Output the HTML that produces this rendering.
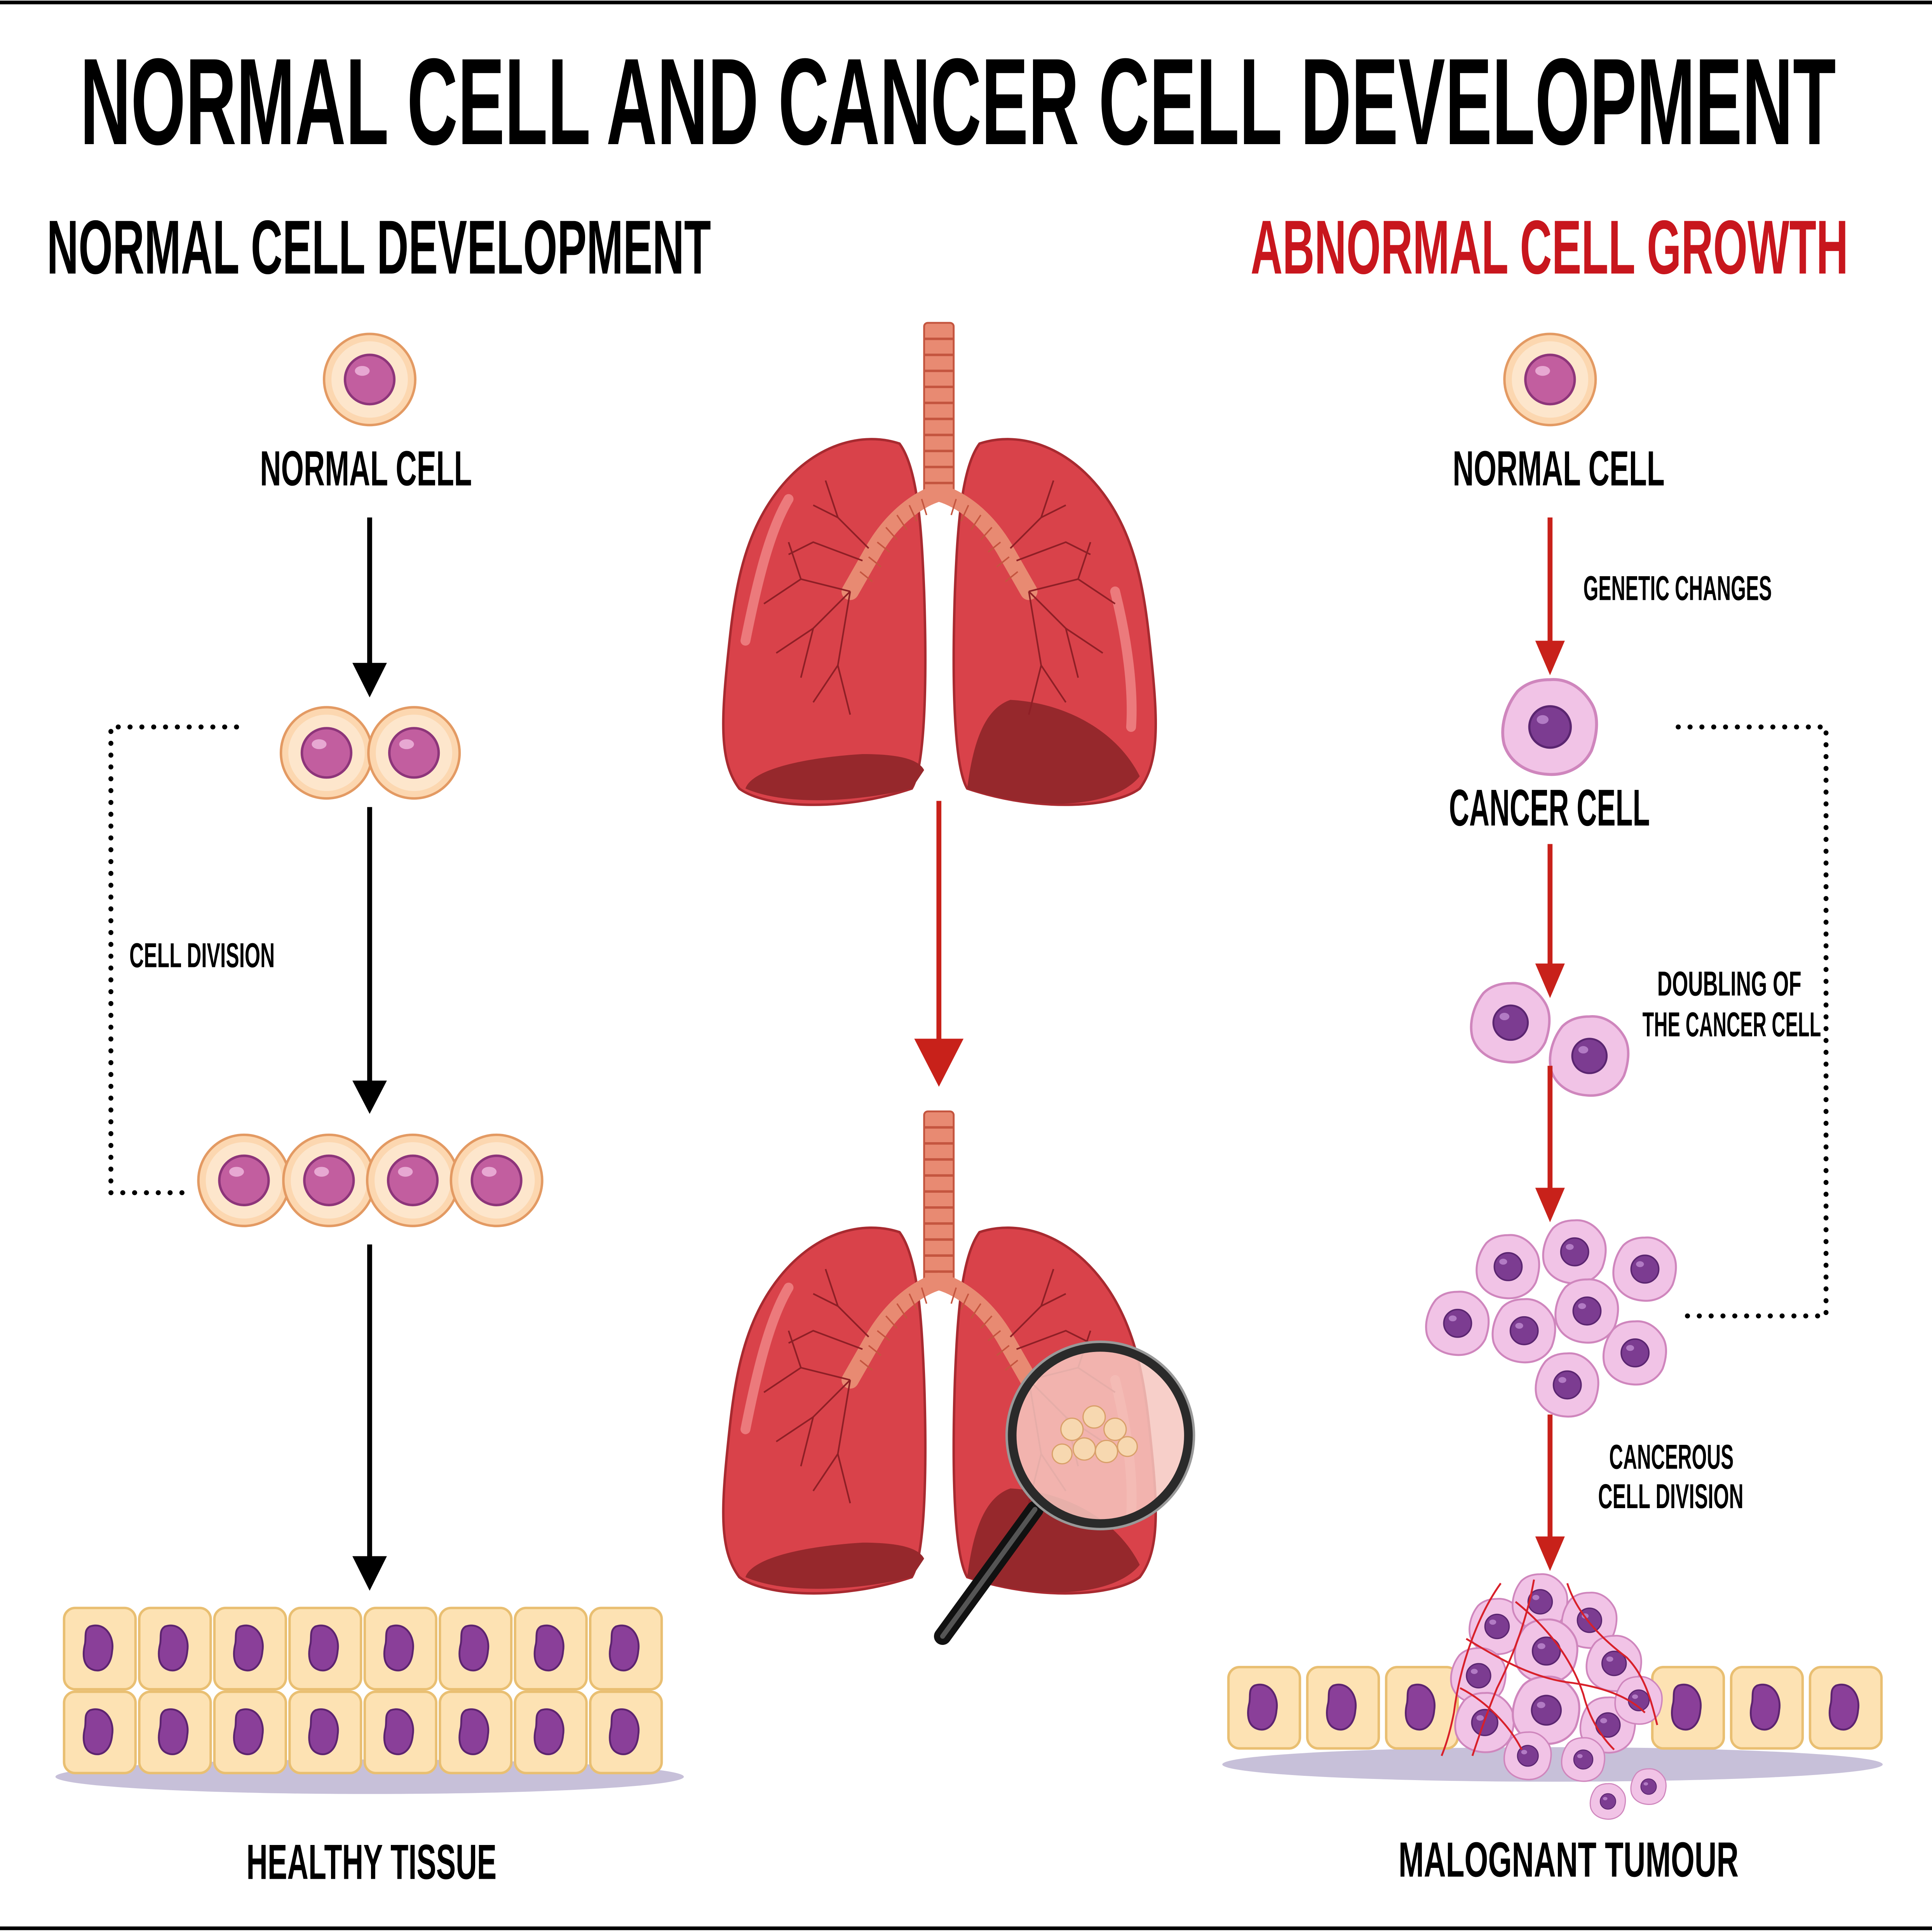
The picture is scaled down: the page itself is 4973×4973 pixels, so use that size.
<!DOCTYPE html>
<html><head><meta charset="utf-8"><style>
html,body{margin:0;padding:0;background:#fff}
svg{display:block}
text{font-family:"Liberation Sans Narrow","Liberation Sans",sans-serif;font-weight:bold}
</style></head><body>
<svg width="4973" height="4973" viewBox="0 0 1568 1568" xmlns="http://www.w3.org/2000/svg">
<defs>
<g id="nc">
 <circle r="37" fill="#fcd7b0" stroke="#e39a63" stroke-width="2"/>
 <circle r="31" fill="#fde6cc"/>
 <circle r="20" fill="#c25e9f" stroke="#8d357a" stroke-width="2"/>
 <ellipse cx="-6" cy="-7" rx="6" ry="4" fill="#e7a8d2"/>
</g>
<g id="cc">
 <path d="M0,-32 C12,-33 22,-26 28,-16 C34,-6 31,8 28,16 C22,28 10,33 -2,32 C-16,31 -27,24 -31,12 C-34,0 -30,-14 -22,-24 C-16,-30 -8,-32 0,-32Z" fill="#f1c3e6" stroke="#cf86bd" stroke-width="2"/>
 <circle r="14" fill="#7c3c91" stroke="#5a2570" stroke-width="1.5"/>
 <ellipse cx="-5" cy="-5" rx="4" ry="3" fill="#b27bc4"/>
</g>
<g id="tc">
 <rect x="-29" y="-33" width="58" height="66" rx="9" fill="#fde2b3" stroke="#e9bf72" stroke-width="2"/>
 <path d="M-8,-18 C4,-22 12,-10 10,2 C9,14 2,20 -6,17 C-14,14 -14,4 -12,-4 C-11,-10 -13,-15 -8,-18Z" fill="#8a3f99" stroke="#5d2470" stroke-width="1.5"/>
</g>
<g id="lungs">
 <g fill="#e88a72" stroke="#c4553f" stroke-width="1.5">
  <rect x="750" y="262" width="24" height="140" rx="3"/>
 </g>
 <g stroke="#c4553f" stroke-width="2">
  <line x1="750" y1="275" x2="774" y2="275"/><line x1="750" y1="288" x2="774" y2="288"/><line x1="750" y1="301" x2="774" y2="301"/><line x1="750" y1="314" x2="774" y2="314"/><line x1="750" y1="327" x2="774" y2="327"/><line x1="750" y1="340" x2="774" y2="340"/><line x1="750" y1="353" x2="774" y2="353"/><line x1="750" y1="366" x2="774" y2="366"/><line x1="750" y1="379" x2="774" y2="379"/><line x1="750" y1="392" x2="774" y2="392"/>
 </g>
 <path d="M730,360 C700,350 660,360 630,400 C600,440 595,490 590,540 C585,590 585,620 600,640 C620,655 680,660 740,640 C752,620 752,540 750,480 C748,430 745,380 730,360Z" fill="#d9424a" stroke="#a82a30" stroke-width="2"/>
 <path d="M740,640 C700,650 640,655 605,640 C610,625 650,615 700,612 C725,612 745,615 750,625Z" fill="#96282c"/>
 <path d="M605,520 C615,470 625,430 640,405" stroke="#ec7a7c" stroke-width="8" fill="none" stroke-linecap="round"/>
 <path d="M795,360 C825,350 865,360 895,400 C925,440 930,490 935,540 C940,590 940,620 925,640 C905,655 845,660 785,640 C773,620 773,540 775,480 C777,430 780,380 795,360Z" fill="#d9424a" stroke="#a82a30" stroke-width="2"/>
 <path d="M785,640 C790,600 800,575 820,568 C860,570 905,590 925,630 C905,655 845,660 785,640Z" fill="#96282c"/>
 <path d="M905,480 C915,520 920,560 918,590" stroke="#ec7a7c" stroke-width="8" fill="none" stroke-linecap="round"/>
 <g fill="none" stroke="#e88a72" stroke-width="14" stroke-linecap="round">
  <path d="M762,400 C745,405 725,420 710,445 L690,480"/>
  <path d="M762,400 C780,405 800,420 815,445 L835,480"/>
 </g>
 <g fill="none" stroke="#c4553f" stroke-width="1.2">
  <path d="M748,405 L752,418 M738,410 L744,423 M728,418 L736,430 M719,428 L728,438 M712,440 L722,448 M705,452 L715,460 M698,464 L708,472"/>
  <path d="M776,405 L772,418 M786,410 L780,423 M796,418 L788,430 M805,428 L796,438 M812,440 L802,448 M819,452 L809,460 M826,464 L816,472"/>
 </g>
 <g fill="none" stroke="#8e1f26" stroke-width="1.3">
  <path d="M690,480 L660,510 L630,530 M660,510 L650,550 M690,480 L680,540 L690,580 M680,540 L660,570 M690,480 L650,470 L620,490 M650,470 L640,440 M705,445 L680,420 L660,410 M680,420 L670,390 M700,455 L660,440 L640,450"/>
  <path d="M835,480 L865,510 L895,530 M865,510 L875,550 M835,480 L845,540 L835,580 M845,540 L865,570 M835,480 L875,470 L905,490 M875,470 L885,440 M820,445 L845,420 L865,410 M845,420 L855,390 M825,455 L865,440 L885,450"/>
 </g>
</g>
</defs>

<rect width="1568" height="1568" fill="#fff"/>
<line x1="0" y1="2" x2="1568" y2="2" stroke="#000" stroke-width="3"/>
<line x1="0" y1="1565" x2="1568" y2="1565" stroke="#000" stroke-width="3"/>

<text x="65" y="117" font-size="100" textLength="1425" lengthAdjust="spacingAndGlyphs">NORMAL CELL AND CANCER CELL DEVELOPMENT</text>
<text x="38" y="222" font-size="62" textLength="539" lengthAdjust="spacingAndGlyphs">NORMAL CELL DEVELOPMENT</text>
<text x="1015" y="222" font-size="62" fill="#c8161d" textLength="485" lengthAdjust="spacingAndGlyphs">ABNORMAL CELL GROWTH</text>

<use href="#nc" x="300" y="308"/>
<text x="211" y="394" font-size="40" textLength="172" lengthAdjust="spacingAndGlyphs">NORMAL CELL</text>
<line x1="300" y1="420" x2="300" y2="545" stroke="#000" stroke-width="4"/>
<polygon points="286,538 314,538 300,566" fill="#000"/>
<use href="#nc" x="265" y="611"/><use href="#nc" x="336" y="611"/>
<line x1="300" y1="655" x2="300" y2="885" stroke="#000" stroke-width="4"/>
<polygon points="286,877 314,877 300,904" fill="#000"/>
<use href="#nc" x="198" y="958"/><use href="#nc" x="267" y="958"/><use href="#nc" x="335" y="958"/><use href="#nc" x="403" y="958"/>
<line x1="300" y1="1010" x2="300" y2="1270" stroke="#000" stroke-width="4"/>
<polygon points="286,1263 314,1263 300,1291" fill="#000"/>
<polyline points="192,590 90,590 90,968 152,968" fill="none" stroke="#000" stroke-width="4" stroke-dasharray="0.1,9.5" stroke-linecap="round"/>
<text x="105" y="785" font-size="28" textLength="118" lengthAdjust="spacingAndGlyphs">CELL DIVISION</text>

<ellipse cx="300" cy="1442" rx="255" ry="14" fill="#c7c0d9"/>
<g>
 <use href="#tc" x="81" y="1338"/><use href="#tc" x="142" y="1338"/><use href="#tc" x="203" y="1338"/><use href="#tc" x="264" y="1338"/><use href="#tc" x="325" y="1338"/><use href="#tc" x="386" y="1338"/><use href="#tc" x="447" y="1338"/><use href="#tc" x="508" y="1338"/>
 <use href="#tc" x="81" y="1406"/><use href="#tc" x="142" y="1406"/><use href="#tc" x="203" y="1406"/><use href="#tc" x="264" y="1406"/><use href="#tc" x="325" y="1406"/><use href="#tc" x="386" y="1406"/><use href="#tc" x="447" y="1406"/><use href="#tc" x="508" y="1406"/>
</g>
<text x="200" y="1525" font-size="40" textLength="203" lengthAdjust="spacingAndGlyphs">HEALTHY TISSUE</text>

<use href="#lungs"/>
<line x1="762" y1="650" x2="762" y2="850" stroke="#c8211a" stroke-width="4"/>
<polygon points="742,843 782,843 762,882" fill="#c8211a"/>
<use href="#lungs" y="640"/>
<line x1="840" y1="1225" x2="765" y2="1328" stroke="#111" stroke-width="14" stroke-linecap="round"/>
<line x1="840" y1="1225" x2="765" y2="1328" stroke="#555" stroke-width="4" stroke-linecap="round"/>
<circle cx="893" cy="1165" r="72" fill="#f6c7c0" fill-opacity="0.85"/>
<g fill="#f7d8b0" stroke="#d9a06a" stroke-width="1">
 <circle cx="870" cy="1160" r="9"/><circle cx="888" cy="1150" r="9"/><circle cx="905" cy="1160" r="9"/><circle cx="880" cy="1176" r="9"/><circle cx="898" cy="1178" r="9"/><circle cx="915" cy="1174" r="8"/><circle cx="862" cy="1180" r="8"/>
</g>
<circle cx="893" cy="1165" r="72" fill="none" stroke="#2a2a2a" stroke-width="8"/>
<circle cx="893" cy="1165" r="76" fill="none" stroke="#999" stroke-width="2"/>

<use href="#nc" x="1258" y="308"/>
<text x="1179" y="394" font-size="40" textLength="172" lengthAdjust="spacingAndGlyphs">NORMAL CELL</text>
<line x1="1258" y1="420" x2="1258" y2="528" stroke="#c8211a" stroke-width="4"/>
<polygon points="1246,520 1270,520 1258,548" fill="#c8211a"/>
<text x="1285" y="487" font-size="28" textLength="153" lengthAdjust="spacingAndGlyphs">GENETIC CHANGES</text>
<use href="#cc" x="1258" y="590" transform="translate(1258 590) scale(1.2) translate(-1258 -590)"/>
<text x="1176" y="670" font-size="42" textLength="163" lengthAdjust="spacingAndGlyphs">CANCER CELL</text>
<line x1="1258" y1="685" x2="1258" y2="790" stroke="#c8211a" stroke-width="4"/>
<polygon points="1246,782 1270,782 1258,810" fill="#c8211a"/>
<use href="#cc" x="1226" y="830"/><use href="#cc" x="1290" y="857"/>
<text x="1345" y="808" font-size="28" textLength="117" lengthAdjust="spacingAndGlyphs">DOUBLING OF</text>
<text x="1333" y="841" font-size="28" textLength="145" lengthAdjust="spacingAndGlyphs">THE CANCER CELL</text>
<line x1="1258" y1="865" x2="1258" y2="972" stroke="#c8211a" stroke-width="4"/>
<polygon points="1246,964 1270,964 1258,992" fill="#c8211a"/>
<g>
 <use href="#cc" transform="translate(1224 1028) scale(0.8)"/>
 <use href="#cc" transform="translate(1278 1016) scale(0.8)"/>
 <use href="#cc" transform="translate(1335 1030) scale(0.8)"/>
 <use href="#cc" transform="translate(1183 1074) scale(0.8)"/>
 <use href="#cc" transform="translate(1237 1080) scale(0.8)"/>
 <use href="#cc" transform="translate(1288 1064) scale(0.8)"/>
 <use href="#cc" transform="translate(1327 1098) scale(0.8)"/>
 <use href="#cc" transform="translate(1272 1124) scale(0.8)"/>
</g>
<polyline points="1362,590 1482,590 1482,1068 1362,1068" fill="none" stroke="#000" stroke-width="4" stroke-dasharray="0.1,9.5" stroke-linecap="round"/>
<line x1="1258" y1="1148" x2="1258" y2="1255" stroke="#c8211a" stroke-width="4"/>
<polygon points="1246,1247 1270,1247 1258,1275" fill="#c8211a"/>
<text x="1306" y="1192" font-size="28" textLength="101" lengthAdjust="spacingAndGlyphs">CANCEROUS</text>
<text x="1297" y="1224" font-size="28" textLength="118" lengthAdjust="spacingAndGlyphs">CELL DIVISION</text>

<ellipse cx="1260" cy="1432" rx="268" ry="14" fill="#c7c0d9"/>
<use href="#tc" x="1026" y="1386"/><use href="#tc" x="1090" y="1386"/><use href="#tc" x="1154" y="1386"/>
<use href="#tc" x="1370" y="1386"/><use href="#tc" x="1434" y="1386"/><use href="#tc" x="1498" y="1386"/>
<g>
 <use href="#cc" transform="translate(1215 1320) scale(0.7)"/>
 <use href="#cc" transform="translate(1250 1300) scale(0.7)"/>
 <use href="#cc" transform="translate(1290 1315) scale(0.7)"/>
 <use href="#cc" transform="translate(1200 1360) scale(0.7)"/>
 <use href="#cc" transform="translate(1255 1340) scale(0.8)"/>
 <use href="#cc" transform="translate(1310 1350) scale(0.7)"/>
 <use href="#cc" transform="translate(1205 1398) scale(0.75)"/>
 <use href="#cc" transform="translate(1255 1388) scale(0.85)"/>
 <use href="#cc" transform="translate(1305 1400) scale(0.7)"/>
 <use href="#cc" transform="translate(1330 1380) scale(0.6)"/>
 <use href="#cc" transform="translate(1240 1425) scale(0.6)"/>
 <use href="#cc" transform="translate(1285 1428) scale(0.55)"/>
 <use href="#cc" transform="translate(1305 1462) scale(0.45)"/>
 <use href="#cc" transform="translate(1338 1450) scale(0.45)"/>
</g>
<g fill="none" stroke="#d8202a" stroke-width="1.5">
 <path d="M1218,1285 C1200,1310 1185,1350 1180,1390 C1176,1410 1172,1420 1170,1425"/>
 <path d="M1245,1282 C1240,1310 1230,1340 1215,1370 C1205,1395 1200,1410 1195,1425"/>
 <path d="M1272,1285 C1280,1310 1300,1330 1320,1345 C1335,1360 1340,1380 1345,1400"/>
 <path d="M1190,1330 C1215,1345 1240,1360 1270,1365 C1295,1368 1320,1375 1335,1390"/>
 <path d="M1230,1300 C1255,1320 1275,1345 1285,1375 C1290,1395 1300,1410 1310,1420"/>
 <path d="M1185,1370 C1205,1380 1225,1400 1235,1420"/>
</g>
<text x="1135" y="1523" font-size="40" textLength="276" lengthAdjust="spacingAndGlyphs">MALOGNANT TUMOUR</text>
</svg>
</body></html>
